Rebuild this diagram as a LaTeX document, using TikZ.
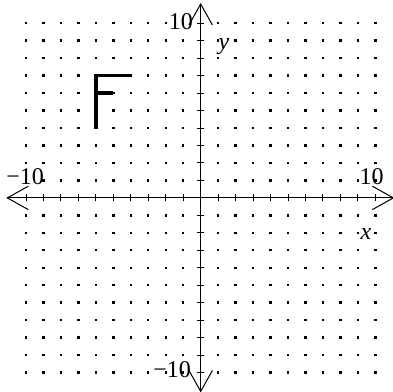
\documentclass[tikz,border=0pt]{standalone}
\usepackage{fontspec}
\setmainfont{Liberation Serif}
\usetikzlibrary{calc}
\begin{document}
\begin{tikzpicture}[x=17.47pt,y=17.47pt,
  axisline/.style={line width=1pt},
  tickmark/.style={line width=1pt},
  dotmark/.style={fill=black},
  shapeline/.style={line width=3.3pt, line join=miter},
  numlabel/.style={inner sep=0pt, font=\fontsize{24}{24}\selectfont},
  varlabel/.style={inner sep=0pt, font=\fontsize{24}{24}\selectfont\itshape}]
\useasboundingbox (-11.49,-11.10) rectangle (11.01,11.33);
% dots
\foreach \i in {-10,...,10} {
  \foreach \j in {-10,...,10} {
    \ifnum\i=0\else\ifnum\j=0\else
      \fill[dotmark] (\i,\j) +(-1.2pt,-1.2pt) rectangle +(1.2pt,1.2pt);
    \fi\fi
  }
}
% axes
\coordinate (xl) at (-11.07,0);
\coordinate (xr) at (11.03,0);
\coordinate (yt) at (0,11.1);
\coordinate (yb) at (0,-11.08);
\draw[axisline] (xl) -- (xr);
\draw[axisline] (yb) -- (yt);
% arrow heads
\draw[axisline] ($(xl)+(1.2,0.67)$) -- (xl) -- ($(xl)+(1.2,-0.67)$);
\draw[axisline] ($(xr)+(-1.2,0.67)$) -- (xr) -- ($(xr)+(-1.2,-0.67)$);
\draw[axisline] ($(yt)+(-0.67,-1.2)$) -- (yt) -- ($(yt)+(0.67,-1.2)$);
\draw[axisline] ($(yb)+(-0.67,1.2)$) -- (yb) -- ($(yb)+(0.67,1.2)$);
% ticks
\foreach \i in {-10,...,-1,1,2,...,10} {
  \draw[tickmark] (\i,0) +(0,-3.5pt) -- +(0,3.5pt);
  \draw[tickmark] (0,\i) +(-3.5pt,0) -- +(3.5pt,0);
}
% labels
\node[numlabel, anchor=base east] (lxm) at (-8.97,0.744) {−10};
\node[numlabel, anchor=base east] (lxp) at (10.49,0.744) {10};
\node[numlabel, anchor=base east] (lyp) at (-0.44,9.62) {10};
\node[numlabel, anchor=base east] (lym) at (-0.555,-10.30) {−10};
\node[varlabel, anchor=base west] (ly) at (1.02,8.47) {y};
\node[varlabel, anchor=base west] (lx) at (9.15,-2.40) {x};
% figure F
\draw[shapeline] (-4,7) -- (-6,7) -- (-6,3.95);
\draw[shapeline] (-6,6) -- (-5,6);
\end{tikzpicture}
\end{document}
